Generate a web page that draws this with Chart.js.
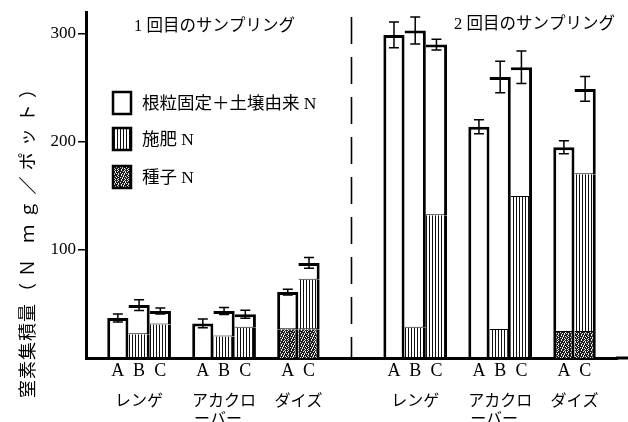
<!DOCTYPE html>
<html>
<head>
<meta charset="utf-8">
<script src="https://cdn.jsdelivr.net/npm/chart.js@4.4.1/dist/chart.umd.min.js"></script>
<style>
html, body { margin: 0; padding: 0; background: #fff; }
#wrap { position: relative; width: 628px; height: 422px; }
</style>
</head>
<body>
<div id="wrap"><canvas id="grafico" width="628" height="422"></canvas></div>
<script>
// one slot per bar, '' = empty slot between groups
const xLabels = ['', 'A','B','C', '', 'A','B','C', '', 'A','C', '', '', '', 'A','B','C', '', 'A','B','C', '', 'A','C', ''];
const cropNames = ['レンゲ', ['アカクロ','ーバー'], 'ダイズ', 'レンゲ', ['アカクロ','ーバー'], 'ダイズ'];
const samplingTitles = ['1 回目のサンプリング', '2 回目のサンプリング'];
const seriesNames = ['根粒固定＋土壌由来 N', '施肥 N', '種子 N'];
const yTitleName = '窒素集積量';
const yTitleUnit = '（Ｎ ｍｇ／ポット）';
const yTicks = [100, 200, 300];

// N mg/pot
const totalN = [null, 37, 49, 43.5, null, 32, 43.5, 40.5, null, 61, 88, null, null, null, 299, 303, 290, null, 214, 260, 269, null, 195, 249, null];
const fertN  = [null, null, 22, 31, null, null, 20, 28, null, null, 46, null, null, null, null, 28, 132, null, null, 26, 149, null, null, 146, null];
const seedN  = [null, null, null, null, null, null, null, null, null, 26.5, 26.5, null, null, null, null, null, null, null, null, null, null, null, 24, 24, null];
const errN   = [null, 3.7, 5, 2.8, null, 4, 3.2, 3.7, null, 2.6, 5, null, null, null, 12, 12.5, 5, null, 6.5, 14.5, 15, null, 6, 11.5, null];

const restN = totalN.map(function(t, i){
    if (t === null) return null;
    return t - (fertN[i] || 0) - (seedN[i] || 0);
});

const fuenteSerif = '"Liberation Serif", "Noto Sans CJK JP", serif';
const fuenteJp = '"Noto Sans CJK JP", "Liberation Serif", sans-serif';

// textures
function patronRayas(){
    const c = document.createElement('canvas');
    c.width = 3; c.height = 1;
    const g = c.getContext('2d');
    g.fillStyle = '#fff'; g.fillRect(0, 0, 3, 1);
    g.fillStyle = '#111'; g.fillRect(0, 0, 1, 1);
    return g.createPattern(c, 'repeat');
}
function patronSemilla(){
    const mapa = [
        '#.##.###.#',
        '###.#.#.##',
        '.####.####',
        '##.#.#.#.#',
        '#.##.###.#',
        '#.#.###.##',
        '###.#.##.#',
        '.#.###.###',
        '##.#.###.#',
        '#.###.#.##'
    ];
    const c = document.createElement('canvas');
    c.width = 10; c.height = 10;
    const g = c.getContext('2d');
    mapa.forEach(function(fila, y){
        for (let x = 0; x < fila.length; x++) {
            g.fillStyle = fila[x] === '#' ? '#1c1c1c' : '#e8e8e8';
            g.fillRect(x, y, 1, 1);
        }
    });
    return g.createPattern(c, 'repeat');
}
const rellenoFert = patronRayas();
const rellenoSeed = patronSemilla();

function esPrimero(i){ return xLabels[i] !== '' && (i === 0 || xLabels[i - 1] === ''); }

function bordes(tipo){
    return function(ctx){
        const i = ctx.dataIndex;
        return {
            left: esPrimero(i) ? 3 : 0,
            right: 3,
            top: tipo === 'rest' ? 3 : 0,
            bottom: tipo === 'seed' ? 0 : 1
        };
    };
}

// runs of consecutive bars = crop groups
function grupos(){
    const out = [];
    let ini = -1;
    xLabels.forEach(function(l, i){
        if (l !== '' && ini < 0) ini = i;
        if (l !== '' && (i === xLabels.length - 1 || xLabels[i + 1] === '')) { out.push([ini, i]); ini = -1; }
    });
    return out;
}

const decoracion = {
    id: 'decoracion',
    beforeDatasetsDraw: function(chart){
        const ctx = chart.ctx;
        const xs = chart.scales.x, ys = chart.scales.y;
        const g = grupos();
        const xm = xs.getPixelForValue((g[2][1] + g[3][0]) / 2);
        ctx.save();
        ctx.strokeStyle = '#000';
        ctx.lineWidth = 1.6;
        ctx.setLineDash([27, 13]);
        ctx.beginPath();
        ctx.moveTo(xm, 17);
        ctx.lineTo(xm, ys.getPixelForValue(0));
        ctx.stroke();
        ctx.restore();
    },
    afterDatasetsDraw: function(chart){
        const ctx = chart.ctx;
        const ys = chart.scales.y;
        const meta = chart.getDatasetMeta(2);
        ctx.save();
        ctx.strokeStyle = '#000';
        ctx.lineWidth = 1.5;
        meta.data.forEach(function(el, i){
            if (totalN[i] === null) return;
            const x = el.x;
            const y1 = ys.getPixelForValue(totalN[i] + errN[i]);
            const y2 = ys.getPixelForValue(totalN[i] - errN[i]);
            ctx.beginPath();
            ctx.moveTo(x, y1); ctx.lineTo(x, y2);
            ctx.moveTo(x - 5, y1); ctx.lineTo(x + 5, y1);
            ctx.moveTo(x - 5, y2); ctx.lineTo(x + 5, y2);
            ctx.stroke();
        });
        ctx.restore();
    },
    afterDraw: function(chart){
        const ctx = chart.ctx;
        const xs = chart.scales.x, ys = chart.scales.y;
        const area = chart.chartArea;
        ctx.save();

        // baseline continues to the edge
        ctx.strokeStyle = '#000';
        ctx.lineWidth = 3;
        ctx.beginPath();
        ctx.moveTo(area.right - 1, ys.getPixelForValue(0));
        ctx.lineTo(chart.width, ys.getPixelForValue(0));
        ctx.stroke();

        ctx.fillStyle = '#000';
        ctx.textBaseline = 'middle';

        // crop names under the A/B/C letters
        ctx.font = '16px ' + fuenteJp;
        grupos().forEach(function(r, k){
            const xc = (xs.getPixelForValue(r[0]) + xs.getPixelForValue(r[1])) / 2;
            const nombre = cropNames[k];
            if (Array.isArray(nombre)) {
                const w = ctx.measureText(nombre[0]).width;
                ctx.textAlign = 'left';
                ctx.fillText(nombre[0], xc - w / 2, 400);
                ctx.fillText(nombre[1], xc - w / 2 + 2, 418);
            } else {
                ctx.textAlign = 'center';
                ctx.fillText(nombre, xc, 400);
            }
        });

        // sampling titles
        ctx.font = '16.5px ' + fuenteSerif;
        ctx.textAlign = 'left';
        ctx.fillText(samplingTitles[0], 134, 27);
        ctx.fillText(samplingTitles[1], 454, 25);

        // legend
        const rellenos = ['#fff', rellenoFert, rellenoSeed];
        const cy = [103, 139, 177];
        seriesNames.forEach(function(s, k){
            ctx.fillStyle = rellenos[k];
            ctx.fillRect(113, cy[k] - 11, 18, 22);
            ctx.strokeStyle = '#000';
            ctx.lineWidth = 2.5;
            ctx.strokeRect(113, cy[k] - 11, 18, 22);
            ctx.fillStyle = '#000';
            ctx.font = '17.5px ' + fuenteSerif;
            ctx.fillText(s, 142, cy[k] + 1);
        });

        // y axis title (runs from y=398 up to y=80)
        ctx.translate(27, 0);
        ctx.rotate(-Math.PI / 2);
        ctx.textAlign = 'left';
        ctx.font = '18px ' + fuenteJp;
        ctx.letterSpacing = '1px';
        ctx.fillText(yTitleName, -398, 0);
        const wName = ctx.measureText(yTitleName).width;
        const ini = -398 + wName + 2;
        ctx.letterSpacing = '0px';
        const natural = ctx.measureText(yTitleUnit).width;
        const esp = Math.max(0, (-80 - ini - natural) / (yTitleUnit.length - 1));
        ctx.letterSpacing = esp.toFixed(1) + 'px';
        ctx.fillText(yTitleUnit, ini, 0);
        ctx.restore();
    }
};

const datasets = [
    { label: seriesNames[2], data: seedN, backgroundColor: rellenoSeed, borderColor: '#000', borderWidth: bordes('seed'), borderSkipped: false },
    { label: seriesNames[1], data: fertN, backgroundColor: rellenoFert, borderColor: '#000', borderWidth: bordes('fert'), borderSkipped: false },
    { label: seriesNames[0], data: restN, backgroundColor: '#fff', borderColor: '#000', borderWidth: bordes('rest'), borderSkipped: false }
];

new Chart(document.getElementById('grafico'), {
    type: 'bar',
    data: { labels: xLabels, datasets: datasets },
    plugins: [decoracion],
    options: {
        responsive: false,
        animation: false,
        devicePixelRatio: 1,
        layout: { padding: { top: 12, right: 11, left: 0, bottom: 0 } },
        datasets: { bar: { barPercentage: 1, categoryPercentage: 1, inflateAmount: 0 } },
        plugins: { legend: { display: false }, tooltip: { enabled: false } },
        scales: {
            x: {
                stacked: true,
                grid: { display: false, drawTicks: false },
                border: { display: true, color: '#000', width: 3 },
                ticks: { autoSkip: false, maxRotation: 0, padding: 2, color: '#000', font: { family: fuenteSerif, size: 18 } },
                afterFit: function(s){ s.height = 64; }
            },
            y: {
                stacked: true,
                min: 0,
                max: 320,
                afterBuildTicks: function(s){ s.ticks = yTicks.map(function(v){ return { value: v }; }); },
                grid: { drawOnChartArea: false, drawTicks: true, tickLength: 8, color: '#000', tickColor: '#000', lineWidth: 1.5 },
                border: { display: true, color: '#000', width: 3 },
                ticks: { padding: 2, color: '#000', font: { family: fuenteSerif, size: 17 } },
                afterFit: function(s){ s.width = 86; }
            }
        }
    }
});
</script>
</body>
</html>
